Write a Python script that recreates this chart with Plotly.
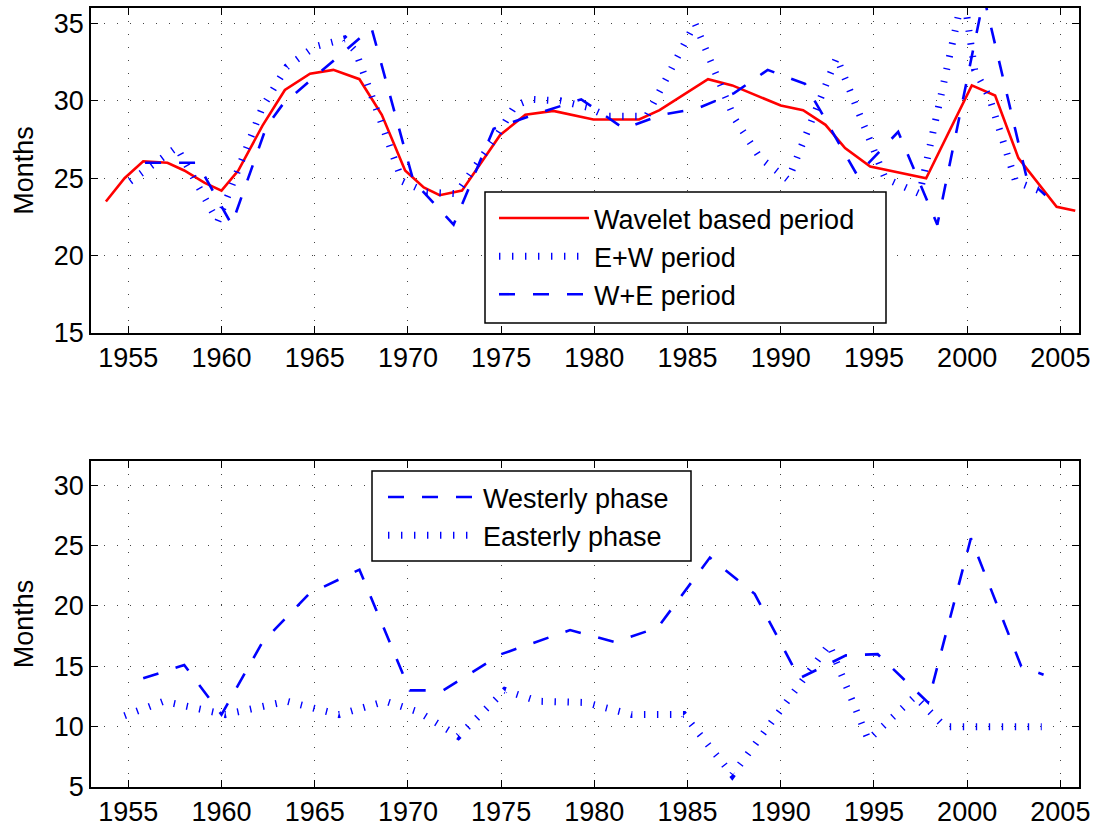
import plotly.graph_objects as go

# ---------------- data ----------------
wave_x = [1953.8, 1954.8, 1955.8, 1957.1, 1958.0, 1959.1, 1960.0, 1960.9, 1962.2, 1963.4,
          1964.75, 1966.0, 1967.4, 1968.6, 1969.85, 1970.85, 1971.7, 1972.9, 1974.95, 1976.3,
          1977.8, 1979.95, 1982.4, 1983.5, 1986.1, 1987.4, 1990.0, 1991.2, 1992.4, 1993.45,
          1994.8, 1997.8, 2000.25, 2001.5, 2002.75, 2004.8, 2005.8]
wave_y = [23.5, 25.0, 26.1, 26.0, 25.5, 24.7, 24.2, 25.5, 28.4, 30.7,
          31.75, 32.0, 31.4, 29.1, 25.5, 24.4, 23.9, 24.2, 27.8, 29.1,
          29.35, 28.8, 28.8, 29.4, 31.4, 31.0, 29.7, 29.4, 28.45, 26.95,
          25.75, 25.0, 31.0, 30.35, 26.3, 23.15, 22.9]

ew_x = [1955.1, 1957.6, 1959.8, 1960.6, 1962.2, 1963.5, 1965.0, 1966.6, 1967.2, 1969.7,
        1971.0, 1972.6, 1974.85, 1975.75, 1976.6, 1978.2, 1979.6, 1980.7, 1982.8, 1985.4,
        1987.5, 1988.9, 1990.4, 1993.0, 1995.6, 1997.45, 1999.8, 2000.4, 2001.2, 2002.6,
        2004.3]
ew_y = [24.8, 27.0, 22.2, 24.6, 29.6, 32.2, 33.5, 34.0, 33.2, 24.8,
        24.1, 24.0, 27.9, 29.7, 30.1, 30.0, 29.6, 29.0, 29.0, 35.0,
        28.9, 26.3, 24.9, 32.8, 25.0, 24.0, 37.0, 32.0, 30.2, 24.8,
        24.0]

we_x = [1955.9, 1958.7, 1960.55, 1962.4, 1963.3, 1968.05, 1970.3, 1972.45, 1974.6, 1976.5,
        1979.3, 1981.6, 1983.6, 1985.5, 1987.5, 1989.3, 1991.3, 1994.1, 1996.3, 1998.4,
        2000.9, 2003.2, 2004.2]
we_y = [26.0, 26.0, 22.0, 28.3, 29.8, 34.7, 24.8, 22.0, 28.2, 29.0,
        30.1, 28.2, 29.1, 29.5, 30.5, 32.0, 31.1, 25.2, 28.0, 22.0,
        36.7, 25.0, 23.9]

west_x = [1955.8, 1958.0, 1960.0, 1962.2, 1964.7, 1967.4, 1970.1, 1971.9, 1975.0, 1978.7,
          1981.1, 1983.4, 1986.2, 1988.6, 1991.0, 1993.5, 1995.2, 1997.9, 2000.2, 2002.9,
          2004.1]
west_y = [14.0, 15.1, 11.0, 17.0, 21.0, 23.0, 13.0, 13.0, 16.0, 18.0,
          17.0, 18.2, 24.0, 21.0, 14.0, 15.9, 16.0, 12.0, 25.6, 15.0,
          14.3]

east_x = [1954.8, 1956.9, 1960.2, 1963.5, 1966.3, 1968.8, 1970.6, 1972.7, 1975.2, 1977.0,
          1979.5, 1982.0, 1984.8, 1987.4, 1992.6, 1994.7, 1997.2, 1998.8, 2004.0]
east_y = [10.9, 12.1, 11.0, 12.1, 11.0, 12.1, 11.2, 9.2, 13.0, 12.1,
          12.0, 11.0, 11.0, 6.0, 16.8, 8.9, 12.5, 10.0, 10.0]

x_ticks = [1955, 1960, 1965, 1970, 1975, 1980, 1985, 1990, 1995, 2000, 2005]
top_y_ticks = [15, 20, 25, 30, 35]
bot_y_ticks = [5, 10, 15, 20, 25, 30]

# ---------------- styling ----------------
W, H = 1097, 829
FONT = "Liberation Sans, Arial, Helvetica, sans-serif"
FS = 27
RED = "#ff0000"
BLUE = "#0000ff"
DOT = dict(color=BLUE, width=7, dash="1.4px,11.6px")
DASH = dict(color=BLUE, width=2.6, dash="16px,18px")


def fx(px):
    return px / W


def fy(py):
    return 1 - py / H


fig = go.Figure()
fig.add_trace(go.Scatter(x=wave_x, y=wave_y, mode="lines", name="Wavelet based period",
                         line=dict(color=RED, width=2.6), xaxis="x", yaxis="y",
                         legend="legend", legendgroup="a"))
fig.add_trace(go.Scatter(x=ew_x, y=ew_y, mode="lines", name="E+W period",
                         line=DOT, xaxis="x", yaxis="y", legend="legend", legendgroup="b"))
fig.add_trace(go.Scatter(x=we_x, y=we_y, mode="lines", name="W+E period",
                         line=DASH, xaxis="x", yaxis="y", legend="legend", legendgroup="c"))
fig.add_trace(go.Scatter(x=west_x, y=west_y, mode="lines", name="Westerly phase",
                         line=DASH, xaxis="x2", yaxis="y2", legend="legend2", legendgroup="d"))
fig.add_trace(go.Scatter(x=east_x, y=east_y, mode="lines", name="Easterly phase",
                         line=DOT, xaxis="x2", yaxis="y2", legend="legend2", legendgroup="e"))

axis_common = dict(
    showline=True, linecolor="black", linewidth=1.5, mirror="allticks",
    ticks="inside", ticklen=7, tickwidth=1, tickcolor="black",
    showgrid=True, gridcolor="#444444", gridwidth=1, griddash="1px,12px",
    zeroline=False, automargin=False,
    tickfont=dict(family=FONT, size=FS, color="black"),
)

xdom = [fx(91), fx(1079)]
fig.update_layout(
    width=W, height=H, autosize=False,
    margin=dict(l=0, r=0, t=0, b=0, pad=0, autoexpand=False),
    paper_bgcolor="white", plot_bgcolor="white",
    font=dict(family=FONT, size=FS, color="black"),
    showlegend=True,
    xaxis=dict(domain=xdom, range=[1953, 2006], tickvals=x_ticks, anchor="y", **axis_common),
    yaxis=dict(domain=[fy(333), fy(8)], range=[15, 36], tickvals=top_y_ticks, anchor="x",
               title=dict(text="Months", font=dict(family=FONT, size=FS), standoff=12),
               **axis_common),
    xaxis2=dict(domain=xdom, range=[1953, 2006], tickvals=x_ticks, anchor="y2", **axis_common),
    yaxis2=dict(domain=[fy(787), fy(461)], range=[5, 32], tickvals=bot_y_ticks, anchor="x2",
                title=dict(text="Months", font=dict(family=FONT, size=FS), standoff=12),
                **axis_common),
    legend=dict(x=fx(494), y=fy(194), xanchor="left", yanchor="top",
                bgcolor="rgba(0,0,0,0)", borderwidth=0, itemwidth=90,
                tracegroupgap=0, font=dict(family=FONT, size=FS, color="black")),
    legend2=dict(x=fx(383), y=fy(473), xanchor="left", yanchor="top",
                 bgcolor="rgba(0,0,0,0)", borderwidth=0, itemwidth=90,
                 tracegroupgap=0, font=dict(family=FONT, size=FS, color="black")),
    shapes=[
        dict(type="rect", xref="paper", yref="paper", layer="above",
             x0=fx(485), x1=fx(886), y0=fy(323), y1=fy(192),
             line=dict(color="black", width=1.5), fillcolor="white"),
        dict(type="rect", xref="paper", yref="paper", layer="above",
             x0=fx(372), x1=fx(691), y0=fy(561), y1=fy(471),
             line=dict(color="black", width=1.5), fillcolor="white"),
    ],
)

fig.write_html(
    "out.html",
    config={"responsive": False},
    post_script=("document.body.style.margin='0';"
                 "document.body.style.overflow='hidden';"
                 "document.documentElement.style.overflow='hidden';"),
)
